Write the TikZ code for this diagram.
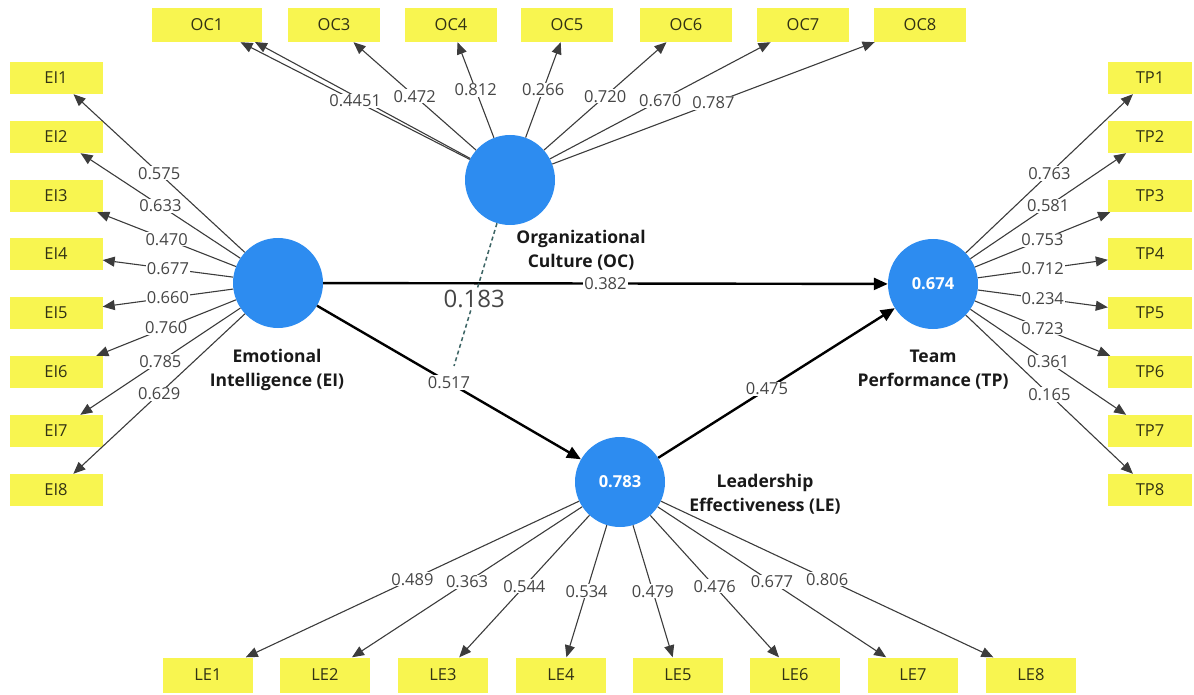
\documentclass[tikz,border=0pt]{standalone}
\usepackage{fontspec}
\setmainfont{Open Sans}
\usetikzlibrary{arrows.meta}
\definecolor{latblue}{RGB}{45,140,240}
\definecolor{boxyel}{RGB}{248,245,80}
\definecolor{lngray}{RGB}{60,60,60}
\definecolor{lbltext}{RGB}{70,70,70}
\definecolor{boxtext}{RGB}{50,50,20}
\definecolor{dashcol}{RGB}{60,100,100}
\begin{document}
\begin{tikzpicture}[x=1pt,y=-1pt,
 ind/.style={rectangle,fill=boxyel,minimum width=92pt,minimum height=34pt,inner sep=0pt,text=boxtext,font=\fontsize{16.5}{19}\selectfont},
 lat/.style={circle,fill=latblue,minimum size=90pt,inner sep=0pt,text=white,font=\fontsize{16.5}{19}\selectfont\bfseries},
 ldarrow/.style={draw=lngray,line width=1.1pt,-{Triangle[length=12pt,width=10pt]}},
 strarrow/.style={draw=black,line width=2.4pt,-{Triangle[length=14pt,width=12pt]}},
 ldlbl/.style={fill=white,inner sep=1pt,text=lbltext,font=\fontsize{16.5}{19}\selectfont},
 latname/.style={align=center,text=black!90,font=\fontsize{17.5}{24}\selectfont\bfseries}]
\useasboundingbox (0,0) rectangle (1194,695);
% latent variables
\node[lat] (OC) at (510,180) {};
\node[lat] (EI) at (278,283) {};
\node[lat] (TP) at (933,284) {0.674};
\node[lat] (LE) at (620,482) {0.783};
% latent names
\node[latname] (nOC) at (581,250) {Organizational\\Culture (OC)};
\node[latname] (nEI) at (277,370) {Emotional\\Intelligence (EI)};
\node[latname] (nTP) at (933,370) {Team\\Performance (TP)};
\node[latname] (nLE) at (765,494) {Leadership\\Effectiveness (LE)};
% indicators
\node[ind,minimum width=110pt] (OC1) at (207,25) {OC1};
\foreach \n/\x in {3/334,4/451,5/567,6/686,7/803,8/920}
  \node[ind] (OC\n) at (\x,25) {OC\n};
\foreach \i/\y in {1/78,2/137,3/196,4/254,5/313,6/372,7/431,8/490} {
  \node[ind,minimum width=93pt,minimum height=32pt] (EI\i) at (56,\y) {EI\i};
  \node[ind,minimum width=84pt,minimum height=32pt] (TP\i) at (1150,\y) {TP\i};
}
\foreach \i/\x in {1/208,2/325,3/443,4/561,5/678,6/795,7/913,8/1031}
  \node[ind,minimum width=90pt,minimum height=35pt] (LE\i) at (\x,675) {LE\i};
% loading arrows
\coordinate (oc1b) at (255,42);
\draw[ldarrow] (OC) -- (oc1b);
\foreach \i in {1,3,4,5,6,7,8} \draw[ldarrow] (OC) -- (OC\i);
\foreach \i in {1,...,8} {
  \draw[ldarrow] (EI) -- (EI\i);
  \draw[ldarrow] (TP) -- (TP\i);
  \draw[ldarrow] (LE) -- (LE\i);
}
% structural paths
\draw[strarrow] (EI) -- (TP);
\draw[strarrow] (EI) -- (LE);
\draw[strarrow] (LE) -- (TP);
\coordinate (mod) at (454,366);
\draw[dashcol,line width=1.5pt,dash pattern=on 4pt off 3pt] (OC) -- (mod);
% labels
\foreach \i/\v in {1/0.4451,3/0.472,4/0.812,5/0.266,6/0.720,7/0.670,8/0.787}
  \path (OC) -- (OC\i) node[ldlbl,pos=.5] {\v};
\foreach \i/\v in {1/0.575,2/0.633,3/0.470,4/0.677,5/0.660,6/0.760,7/0.785,8/0.629}
  \path (EI) -- (EI\i) node[ldlbl,pos=.5] {\v};
\foreach \i/\v in {1/0.763,2/0.581,3/0.753,4/0.712,5/0.234,6/0.723,7/0.361,8/0.165}
  \path (TP) -- (TP\i) node[ldlbl,pos=.5] {\v};
\foreach \i/\v in {1/0.489,2/0.363,3/0.544,4/0.534,5/0.479,6/0.476,7/0.677,8/0.806}
  \path (LE) -- (LE\i) node[ldlbl,pos=.5] {\v};
\path (EI) -- (TP) node[ldlbl,pos=.5] (l382) {0.382};
\path (EI) -- (LE) node[ldlbl,pos=.5] (l517) {0.517};
\path (LE) -- (TP) node[ldlbl,pos=.46] (l475) {0.475};
\path (OC) -- (mod) node[ldlbl,pos=.53,font=\fontsize{24}{28}\selectfont] (l183) {0.183};
\end{tikzpicture}
\end{document}
